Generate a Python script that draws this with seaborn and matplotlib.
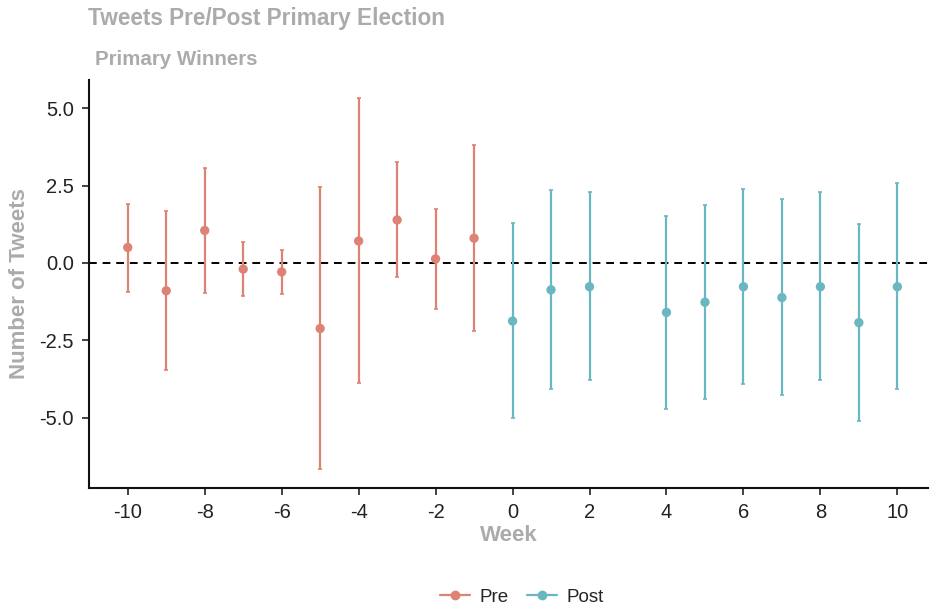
import pandas as pd
import matplotlib.pyplot as plt
import seaborn as sns
from matplotlib.lines import Line2D

# values
pre_weeks = [-10, -9, -8, -7, -6, -5, -4, -3, -2, -1]
pre_est = [0.50, -0.90, 1.05, -0.20, -0.29, -2.12, 0.71, 1.39, 0.13, 0.80]
pre_low = [-0.93, -3.46, -0.98, -1.07, -1.00, -6.68, -3.89, -0.46, -1.48, -2.19]
pre_high = [1.91, 1.69, 3.07, 0.68, 0.43, 2.45, 5.33, 3.27, 1.75, 3.81]

post_weeks = [0, 1, 2, 4, 5, 6, 7, 8, 9, 10]
post_est = [-1.88, -0.87, -0.77, -1.60, -1.27, -0.77, -1.12, -0.77, -1.93, -0.77]
post_low = [-5.03, -4.07, -3.78, -4.72, -4.39, -3.93, -4.28, -3.78, -5.10, -4.09]
post_high = [1.30, 2.35, 2.28, 1.53, 1.89, 2.40, 2.06, 2.28, 1.25, 2.57]

groups = ['Pre', 'Post']
colors = {'Pre': '#DF8276', 'Post': '#6AB7C1'}
gray = '#ABABAB'

df = pd.concat([
    pd.DataFrame({'week': pre_weeks, 'est': pre_est, 'low': pre_low, 'high': pre_high, 'period': 'Pre'}),
    pd.DataFrame({'week': post_weeks, 'est': post_est, 'low': post_low, 'high': post_high, 'period': 'Post'}),
])

sns.set_style('white')
plt.rcParams['font.family'] = ['Liberation Sans', 'DejaVu Sans']
plt.rcParams['axes.unicode_minus'] = False

fig = plt.figure(figsize=(9.3, 6.1), dpi=100)
ax = fig.add_axes([0.096, 0.2, 0.902, 0.669])

for g in groups:
    d = df[df['period'] == g]
    ax.errorbar(d['week'], d['est'],
                yerr=[d['est'] - d['low'], d['high'] - d['est']],
                fmt='none', ecolor=colors[g], elinewidth=1.6, capsize=1.5, capthick=1.2, zorder=2)

sns.scatterplot(data=df, x='week', y='est', hue='period', palette=colors,
                s=45, edgecolor='none', legend=False, ax=ax, zorder=3)

ax.axhline(0, color='black', linestyle=(0, (4, 3)), linewidth=1.4, zorder=1)

ax.set_xlim(-11.0, 10.8)
ax.set_ylim(-7.28, 5.92)
ax.set_xticks(range(-10, 11, 2))
ax.set_yticks([-5.0, -2.5, 0.0, 2.5, 5.0])
ax.set_yticklabels(['-5.0', '-2.5', '0.0', '2.5', '5.0'])
ax.tick_params(axis='both', labelsize=14.5, colors='#222222', direction='out',
               length=5, width=1.2, left=True, bottom=True, pad=6)
for s in ['top', 'right']:
    ax.spines[s].set_visible(False)
for s in ['left', 'bottom']:
    ax.spines[s].set_color('#111111')
    ax.spines[s].set_linewidth(1.5)

ax.set_xlabel('Week', fontsize=16, fontweight='bold', color=gray, labelpad=2)
ax.set_ylabel('Number of Tweets', fontsize=16, fontweight='bold', color=gray, labelpad=7)

fig.text(0.095, 0.97, 'Tweets Pre/Post Primary Election', fontsize=16.3, fontweight='bold',
         color=gray, va='center')
fig.text(0.102, 0.902, 'Primary Winners', fontsize=14.8, fontweight='bold', color=gray, va='center')

handles = [Line2D([0], [0], color=colors[g], marker='o', markersize=6, linewidth=1.6, label=g)
           for g in groups]
fig.legend(handles=handles, loc='center', bbox_to_anchor=(0.561, 0.021), ncol=2, frameon=False,
           fontsize=13.5, handlelength=1.6, columnspacing=1.0, handletextpad=0.5)

plt.savefig('out.png', dpi=100)
